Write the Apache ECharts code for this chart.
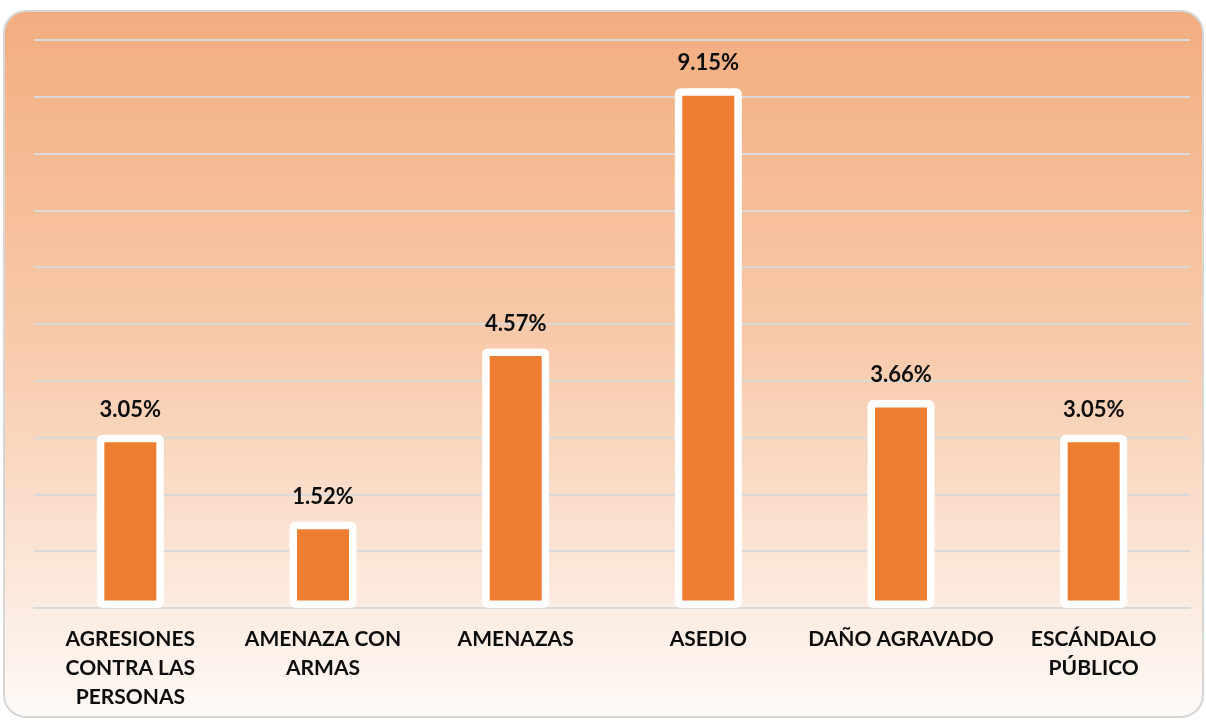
<!DOCTYPE html>
<html>
<head>
<meta charset="utf-8">
<script src="https://cdn.jsdelivr.net/npm/echarts@6/dist/echarts.min.js"></script>
<style>html,body{margin:0;padding:0;background:#fff;}#c{width:1206px;height:721px;}</style>
</head>
<body>
<div id="c"></div>
<script>
const categories = ['AGRESIONES\nCONTRA LAS\nPERSONAS', 'AMENAZA CON\nARMAS', 'AMENAZAS', 'ASEDIO', 'DAÑO AGRAVADO', 'ESCÁNDALO\nPÚBLICO'];
const values = [3.05, 1.52, 4.57, 9.15, 3.66, 3.05];

const chart = echarts.init(document.getElementById('c'), null, {renderer: 'canvas'});
chart.setOption({
  animation: false,
  backgroundColor: '#ffffff',
  graphic: [{
    type: 'rect',
    z: -10,
    shape: {x: 4, y: 11, width: 1199, height: 706, r: 22},
    style: {
      fill: new echarts.graphic.LinearGradient(0, 0, 0, 1, [
        {offset: 0, color: '#F2AD7F'},
        {offset: 0.5, color: '#F8CCAE'},
        {offset: 1, color: '#FEFAF7'}
      ]),
      stroke: '#D6D6D6',
      lineWidth: 2
    }
  }],
  grid: {left: 34, right: 16, top: 40, bottom: 113},
  xAxis: {
    type: 'category',
    data: categories,
    axisLine: {show: true, lineStyle: {color: '#D9D9D9', width: 2}},
    axisTick: {show: false},
    axisLabel: {
      interval: 0,
      margin: 17,
      color: '#0d0d0d',
      fontFamily: 'Lato',
      fontWeight: 'bold',
      fontSize: 21,
      lineHeight: 29
    }
  },
  yAxis: {
    type: 'value',
    min: 0, max: 10, interval: 1,
    axisLabel: {show: false},
    axisLine: {show: false},
    axisTick: {show: false},
    splitLine: {show: true, lineStyle: {color: '#D9D9D9', width: 2}}
  },
  series: [{
    type: 'bar',
    data: values,
    barWidth: 67,
    itemStyle: {color: '#ED7D31', borderColor: '#ffffff', borderWidth: 7.5, borderRadius: 2},
    label: {
      show: true,
      position: 'top',
      distance: 14,
      color: '#0d0d0d',
      fontFamily: 'Lato',
      fontWeight: 'bold',
      fontSize: 22,
      formatter: p => p.value.toFixed(2) + '%'
    }
  }]
});
</script>
</body>
</html>
